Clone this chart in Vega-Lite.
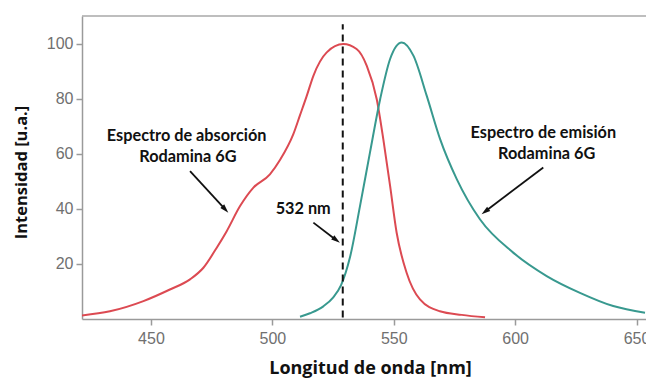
{
  "$schema": "https://vega.github.io/schema/vega-lite/v6.json",
  "autosize": {"type": "none"},
  "padding": {"left": 82, "top": 16, "right": 0, "bottom": 60},
  "width": 564,
  "height": 303,
  "background": "white",
  "config": {
    "view": {"stroke": null},
    "axis": {
      "domainColor": "#9a9a9a", "domainWidth": 1.5,
      "tickColor": "#9a9a9a", "tickWidth": 1.5, "tickSize": 6,
      "labelColor": "#707070", "labelFont": "Liberation Sans", "labelFontSize": 16,
      "titleFont": "Open Sans", "titleFontWeight": "bold", "titleFontSize": 16.5, "titleColor": "#111111",
      "grid": false
    }
  },
  "datasets": {
    "spectra": [
      {"nm": 421.6, "v": 1.3, "s": "abs"},
      {"nm": 433.1, "v": 2.8, "s": "abs"},
      {"nm": 446.9, "v": 6.5, "s": "abs"},
      {"nm": 457.8, "v": 10.7, "s": "abs"},
      {"nm": 466.1, "v": 14.4, "s": "abs"},
      {"nm": 471.6, "v": 18.6, "s": "abs"},
      {"nm": 477.1, "v": 25.9, "s": "abs"},
      {"nm": 481.2, "v": 31.9, "s": "abs"},
      {"nm": 486.7, "v": 41.0, "s": "abs"},
      {"nm": 492.2, "v": 47.7, "s": "abs"},
      {"nm": 499.0, "v": 52.5, "s": "abs"},
      {"nm": 503.2, "v": 57.8, "s": "abs"},
      {"nm": 508.6, "v": 67.0, "s": "abs"},
      {"nm": 511.4, "v": 74.0, "s": "abs"},
      {"nm": 514.1, "v": 80.8, "s": "abs"},
      {"nm": 516.9, "v": 88.3, "s": "abs"},
      {"nm": 522.4, "v": 96.8, "s": "abs"},
      {"nm": 529.2, "v": 99.8, "s": "abs"},
      {"nm": 534.7, "v": 98.0, "s": "abs"},
      {"nm": 538.9, "v": 91.9, "s": "abs"},
      {"nm": 543.0, "v": 79.8, "s": "abs"},
      {"nm": 545.7, "v": 65.3, "s": "abs"},
      {"nm": 548.5, "v": 48.3, "s": "abs"},
      {"nm": 551.2, "v": 31.3, "s": "abs"},
      {"nm": 555.3, "v": 16.8, "s": "abs"},
      {"nm": 560.8, "v": 7.1, "s": "abs"},
      {"nm": 569.0, "v": 2.8, "s": "abs"},
      {"nm": 578.0, "v": 1.5, "s": "abs"},
      {"nm": 587.6, "v": 0.6, "s": "abs"},
      {"nm": 511.4, "v": 0.8, "s": "em"},
      {"nm": 515.5, "v": 2.1, "s": "em"},
      {"nm": 521.0, "v": 4.6, "s": "em"},
      {"nm": 525.0, "v": 7.8, "s": "em"},
      {"nm": 528.3, "v": 12.3, "s": "em"},
      {"nm": 532.0, "v": 22.5, "s": "em"},
      {"nm": 536.1, "v": 41.0, "s": "em"},
      {"nm": 540.2, "v": 60.4, "s": "em"},
      {"nm": 544.4, "v": 79.8, "s": "em"},
      {"nm": 548.5, "v": 94.4, "s": "em"},
      {"nm": 553.3, "v": 100.4, "s": "em"},
      {"nm": 558.1, "v": 95.6, "s": "em"},
      {"nm": 563.6, "v": 81.0, "s": "em"},
      {"nm": 569.1, "v": 65.3, "s": "em"},
      {"nm": 576.0, "v": 50.7, "s": "em"},
      {"nm": 585.5, "v": 36.2, "s": "em"},
      {"nm": 599.2, "v": 24.1, "s": "em"},
      {"nm": 613.0, "v": 15.6, "s": "em"},
      {"nm": 626.7, "v": 9.5, "s": "em"},
      {"nm": 640.4, "v": 4.7, "s": "em"},
      {"nm": 653.5, "v": 2.3, "s": "em"}
    ],
    "labels": [
      {"nm": 464.7, "v": 66.5, "t": "Espectro de absorción"},
      {"nm": 465.2, "v": 58.7, "t": "Rodamina 6G"},
      {"nm": 512.7, "v": 39.8, "t": "532 nm"},
      {"nm": 611.6, "v": 67.7, "t": "Espectro de emisión"},
      {"nm": 613.0, "v": 59.8, "t": "Rodamina 6G"}
    ],
    "arrows": [
      {"a": 1, "nm": 466.1, "v": 53.7, "nm2": 480.4, "v2": 40.0},
      {"a": 2, "nm": 516.9, "v": 35.0, "nm2": 526.1, "v2": 28.8},
      {"a": 3, "nm": 611.6, "v": 55.0, "nm2": 587.9, "v2": 39.2}
    ]
  },
  "layer": [
    {
      "data": {"values": [{}]},
      "mark": {"type": "rule", "color": "#a8a8a8", "strokeWidth": 1.5},
      "encoding": {"y": {"datum": 110, "type": "quantitative", "scale": {"domain": [0, 110]}}}
    },
    {
      "data": {"name": "spectra"},
      "mark": {"type": "line", "strokeWidth": 2, "interpolate": "monotone", "clip": true},
      "encoding": {
        "x": {"field": "nm", "type": "quantitative",
              "scale": {"domain": [421.6, 653.9], "nice": false, "zero": false},
              "axis": {"values": [450, 500, 550, 600, 650], "title": "Longitud de onda [nm]", "labelPadding": 5,
                       "titleFontSize": 18, "titleX": 288, "titleY": 54, "titleBaseline": "alphabetic"}},
        "y": {"field": "v", "type": "quantitative",
              "scale": {"domain": [0, 110], "nice": false},
              "axis": {"values": [20, 40, 60, 80, 100], "title": "Intensidad [u.a.]", "labelPadding": 3,
                       "titleX": -56, "titleY": 156, "titleBaseline": "alphabetic"}},
        "color": {"field": "s", "type": "nominal",
                  "scale": {"domain": ["abs", "em"], "range": ["#dc4a52", "#38998f"]},
                  "legend": null},
        "detail": {"field": "s"}
      }
    },
    {
      "data": {"values": [{"nm": 529, "v": 0.5, "v2": 107}]},
      "mark": {"type": "rule", "color": "#111111", "strokeWidth": 2, "strokeDash": [7, 5]},
      "encoding": {
        "x": {"field": "nm", "type": "quantitative"},
        "y": {"field": "v", "type": "quantitative"},
        "y2": {"field": "v2"}
      }
    },
    {
      "data": {"name": "labels"},
      "mark": {"type": "text", "font": "Lato", "fontWeight": "bold", "fontSize": 16.3, "color": "#111111", "align": "center", "baseline": "middle"},
      "encoding": {
        "x": {"field": "nm", "type": "quantitative"},
        "y": {"field": "v", "type": "quantitative"},
        "text": {"field": "t"}
      }
    },
    {
      "data": {"name": "arrows"},
      "mark": {"type": "rule", "color": "#111111", "strokeWidth": 1.8},
      "encoding": {
        "x": {"field": "nm", "type": "quantitative"},
        "y": {"field": "v", "type": "quantitative"},
        "x2": {"field": "nm2"},
        "y2": {"field": "v2"}
      }
    },
    {
      "data": {"name": "arrows"},
      "transform": [{"filter": "datum.a == 1"}],
      "mark": {"type": "point", "shape": "M0,-1L0.5,0.7L-0.5,0.7Z", "filled": true, "color": "#111111", "opacity": 1, "size": 110, "angle": 137.4},
      "encoding": {
        "x": {"field": "nm2", "type": "quantitative"},
        "y": {"field": "v2", "type": "quantitative"}
      }
    },
    {
      "data": {"name": "arrows"},
      "transform": [{"filter": "datum.a == 2"}],
      "mark": {"type": "point", "shape": "M0,-1L0.5,0.7L-0.5,0.7Z", "filled": true, "color": "#111111", "opacity": 1, "size": 110, "angle": 126.8},
      "encoding": {
        "x": {"field": "nm2", "type": "quantitative"},
        "y": {"field": "v2", "type": "quantitative"}
      }
    },
    {
      "data": {"name": "arrows"},
      "transform": [{"filter": "datum.a == 3"}],
      "mark": {"type": "point", "shape": "M0,-1L0.5,0.7L-0.5,0.7Z", "filled": true, "color": "#111111", "opacity": 1, "size": 110, "angle": 232.8},
      "encoding": {
        "x": {"field": "nm2", "type": "quantitative"},
        "y": {"field": "v2", "type": "quantitative"}
      }
    }
  ]
}
